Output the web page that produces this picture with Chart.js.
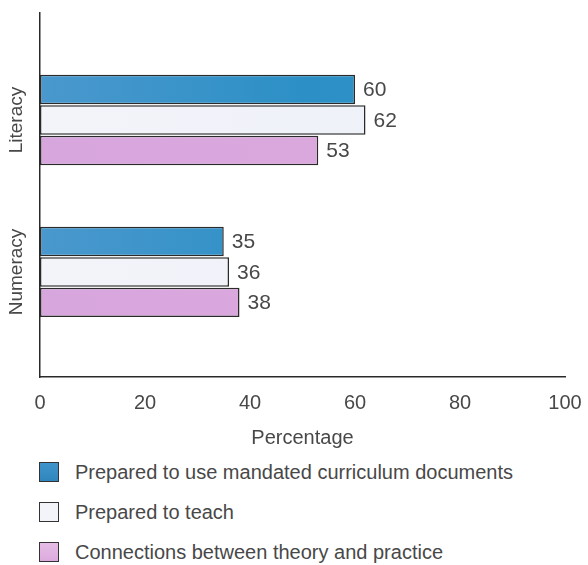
<!DOCTYPE html>
<html>
<head>
<meta charset="utf-8">
<script src="https://cdn.jsdelivr.net/npm/chart.js@4"></script>
<style>
    body { margin: 0; background: #fff; font-family: "Liberation Sans", Arial, sans-serif; }
    #wrap { position: relative; width: 588px; height: 565px; overflow: hidden; }
    #chartBox { position: absolute; left: 0; top: 0; width: 588px; height: 452px; }
    #legend { position: absolute; left: 39px; top: 452px; }
    .item { display: flex; align-items: center; height: 40px; font-size: 20px; color: #484848; }
    .swatch { width: 18px; height: 18px; border: 1.5px solid #333; margin-right: 16px; box-sizing: content-box; }
</style>
</head>
<body>
<div id="wrap">
    <div id="chartBox"><canvas id="barChart"></canvas></div>
    <div id="legend"></div>
</div>
<script>
document.addEventListener( "DOMContentLoaded", () => {

    // Data
    // ----------------------------------------------
    const categories     = ['Literacy', 'Numeracy'];
    const seriesNames    = ['Prepared to use mandated curriculum documents', 'Prepared to teach', 'Connections between theory and practice'];
    const mandatedValues = [60, 35];
    const teachValues    = [62, 36];
    const theoryValues   = [53, 38];
    const xTicks         = [0, 20, 40, 60, 80, 100];


    // Styles
    // ----------------------------------------------
    const textColor   = "#484848";
    const axisColor   = "#2a2a2a";
    const fontFamily  = '"Liberation Sans", Arial, sans-serif';
    const barStops    = [
        ['#4a98cd', '#2c90c6', '#2e94ca'],
        ['#f3f4fa', '#f0f2f9', '#eef1f8'],
        ['#d7a6dc', '#dba8de', '#dca9df']
    ];
    const swatchCss   = [
        'linear-gradient(#3f94cb, #2f86bd)',
        '#f3f4fa',
        'linear-gradient(#e6bde6, #dcaadd)'
    ];

    const gradient = ( stops ) => ( context ) => {
        const area = context.chart.chartArea;
        if ( !area ) return stops[0];
        const g = context.chart.ctx.createLinearGradient( area.left, 0, area.right, 0 );
        stops.forEach( ( c, i ) => g.addColorStop( i / ( stops.length - 1 ), c ) );
        return g;
    };

    const toPoints = ( values ) => values.map( ( v, i ) => ( { x: v, y: i } ) );


    // Value and category labels
    // ----------------------------------------------
    const labelPlugin = {
        id: 'barLabels',
        afterDatasetsDraw( chart ) {
            const ctx = chart.ctx;
            ctx.save();
            ctx.fillStyle = textColor;
            ctx.textBaseline = 'middle';
            ctx.textAlign = 'left';
            ctx.font = `21px ${ fontFamily }`;
            chart.data.datasets.forEach( ( ds, di ) => {
                chart.getDatasetMeta( di ).data.forEach( ( bar, i ) => {
                    ctx.fillText( ds.data[i].x, bar.x + 8, bar.y + 1 );
                });
            });

            const yScale = chart.scales.y;
            ctx.font = `19px ${ fontFamily }`;
            ctx.textAlign = 'center';
            categories.forEach( ( c, i ) => {
                ctx.save();
                ctx.translate( 17, yScale.getPixelForValue( i ) );
                ctx.rotate( -Math.PI / 2 );
                ctx.fillText( c, 0, 0 );
                ctx.restore();
            });
            ctx.restore();
        }
    };


    // Bar Chart
    // ----------------------------------------------
    const allValues = [mandatedValues, teachValues, theoryValues];

    const barChart = new Chart(
        document.getElementById('barChart'), {
            type: 'bar',
            data: {
                datasets: allValues.map( ( values, i ) => ({
                    label: seriesNames[i],
                    data: toPoints( values ),
                    backgroundColor: gradient( barStops[i] ),
                    borderColor: axisColor,
                    borderWidth: 1.5,
                    borderSkipped: false,
                    categoryPercentage: 0.6,
                    barPercentage: 0.97
                }))
            },
            options: {
                indexAxis: 'y',
                responsive: true,
                maintainAspectRatio: false,
                animation: false,
                layout: {
                    padding: { top: 13, right: 23, left: 0, bottom: 0 }
                },
                plugins: {
                    legend: { display: false },
                    tooltip: { enabled: false }
                },
                scales: {
                    x: {
                        type: 'linear',
                        min: 0,
                        max: 100,
                        afterBuildTicks: ( scale ) => { scale.ticks = xTicks.map( v => ( { value: v } ) ); },
                        afterFit: ( scale ) => {
                            scale.height = 75;
                            scale.paddingLeft = 0;
                            scale.paddingRight = 0;
                        },
                        grid: { display: false, drawTicks: false },
                        border: { color: axisColor, width: 1.5 },
                        ticks: {
                            font: { size: 20, family: fontFamily },
                            color: textColor,
                            padding: 14,
                            maxRotation: 0
                        },
                        title: {
                            display: true,
                            text: 'Percentage',
                            font: { size: 20, family: fontFamily },
                            color: textColor,
                            padding: { top: 0, bottom: 2 }
                        }
                    },
                    y: {
                        type: 'linear',
                        reverse: true,
                        offset: false,
                        min: -0.704,
                        max: 1.691,
                        afterBuildTicks: ( scale ) => { scale.ticks = categories.map( ( c, i ) => ( { value: i } ) ); },
                        afterFit: ( scale ) => {
                            scale.width = 40;
                            scale.paddingTop = 0;
                            scale.paddingBottom = 0;
                        },
                        grid: { display: false, drawTicks: false },
                        border: { color: axisColor, width: 1.5 },
                        ticks: { display: false }
                    }
                }
            },
            plugins: [labelPlugin]
        }
    );


    // Legend
    // ----------------------------------------------
    const legend = document.getElementById('legend');
    barChart.data.datasets.forEach( ( ds, i ) => {
        const item = document.createElement('div');
        item.className = 'item';
        const sw = document.createElement('span');
        sw.className = 'swatch';
        sw.style.background = swatchCss[i];
        const txt = document.createElement('span');
        txt.textContent = ds.label;
        item.appendChild( sw );
        item.appendChild( txt );
        legend.appendChild( item );
    });

});
</script>
</body>
</html>
